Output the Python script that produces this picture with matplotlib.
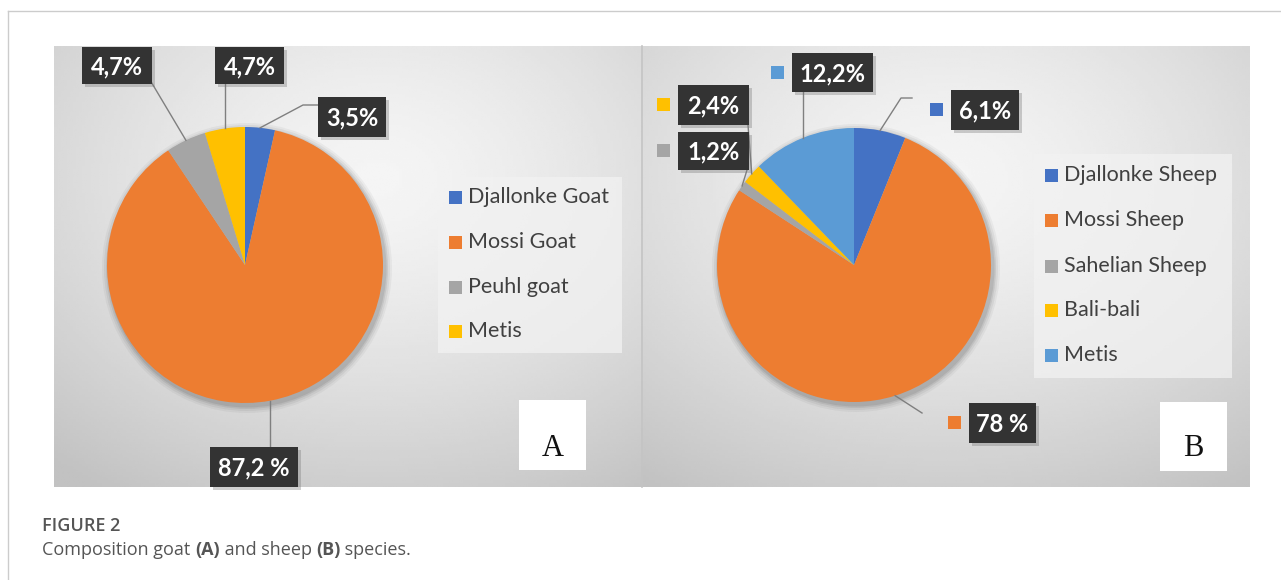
import matplotlib.pyplot as plt
import numpy as np
from matplotlib.patches import Rectangle, Circle

# goat composition (panel A)
goat_labels = ["Djallonke Goat", "Mossi Goat", "Peuhl goat", "Metis"]
goat_values = [3.5, 87.2, 4.7, 4.7]
goat_text = ["3,5%", "87,2 %", "4,7%", "4,7%"]

# sheep composition (panel B)
sheep_labels = ["Djallonke Sheep", "Mossi Sheep", "Sahelian Sheep", "Bali-bali", "Metis"]
sheep_values = [6.1, 78.0, 1.2, 2.4, 12.2]
sheep_text = ["6,1%", "78 %", "1,2%", "2,4%", "12,2%"]

goat_colors = ["#4472C4", "#ED7D31", "#A5A5A5", "#FFC000"]
sheep_colors = ["#4472C4", "#ED7D31", "#A5A5A5", "#FFC000", "#5B9BD5"]

W, H = 1281, 580
fig = plt.figure(figsize=(W / 100, H / 100), dpi=100)
ax = fig.add_axes([0, 0, 1, 1])

LABEL_FONT = "Lato"


def panel_bg(x0, x1, y0, y1, cx, cy):
    # office style radial grey gradient
    xs = np.linspace(0, 1, 200)
    ys = np.linspace(0, 1, 160)
    gx, gy = np.meshgrid(xs, ys)
    d = np.sqrt((gx - cx) ** 2 + (gy - cy) ** 2)
    img = 0.96 - 0.2 * np.clip(d / 0.85, 0, 1) ** 1.4
    ax.imshow(img, extent=(x0, x1, y1, y0), cmap="gray", vmin=0, vmax=1,
              aspect="auto", zorder=0, interpolation="bilinear")


def draw_pie(values, colors, center, radius):
    # soft shadow round the pie
    for k, a in [(7, 0.04), (5, 0.05), (3, 0.07), (1.5, 0.08)]:
        ax.add_patch(Circle((center[0] + 2, center[1] + 3), radius + k,
                            color="#000000", alpha=a, lw=0, zorder=1))
    # y axis is inverted, so counterclock in data = clockwise on screen
    wedges, _ = ax.pie(values, colors=colors, radius=radius, center=center,
                       startangle=-90, counterclock=True,
                       wedgeprops=dict(linewidth=0, zorder=2))
    pts = []
    for w in wedges:
        t = np.deg2rad((w.theta1 + w.theta2) / 2)
        pts.append((center[0] + radius * np.cos(t), center[1] + radius * np.sin(t)))
    return pts


def label_box(text, box, key=None):
    x0, y0, x1, y1 = box
    ax.add_patch(Rectangle((x0 + 3, y0 + 3), x1 - x0, y1 - y0, color="#777777",
                           alpha=0.35, lw=0, zorder=4))
    ax.add_patch(Rectangle((x0, y0), x1 - x0, y1 - y0, color="#333333", lw=0, zorder=5))
    ax.text((x0 + x1) / 2, (y0 + y1) / 2 + 1, text, color="white", fontsize=17,
            fontweight="bold", family=LABEL_FONT, ha="center", va="center", zorder=6)
    if key is not None:
        ax.add_patch(Rectangle((x0 - 21, (y0 + y1) / 2 - 7), 13, 13, color=key,
                               lw=0, zorder=5))


def leader(points):
    xs, ys = zip(*points)
    ax.plot(xs, ys, color="#7f7f7f", lw=1.0, zorder=3)


def legend(labels, colors, box, rows, key_x):
    x0, y0, x1, y1 = box
    ax.add_patch(Rectangle((x0, y0), x1 - x0, y1 - y0, color="#f2f2f2", alpha=0.75,
                           lw=0, zorder=2))
    for lab, c, y in zip(labels, colors, rows):
        ax.add_patch(Rectangle((key_x, y - 6.5), 13, 13, color=c, lw=0, zorder=3))
        ax.text(key_x + 19, y, lab, fontsize=15.5, family=LABEL_FONT, color="#404040",
                ha="left", va="center", zorder=3)


def panel_tag(letter, box):
    x0, y0, x1, y1 = box
    ax.add_patch(Rectangle((x0, y0), x1 - x0, y1 - y0, color="white", lw=0, zorder=2))
    ax.text((x0 + x1) / 2, y1 - 22, letter, fontsize=22, family="Liberation Serif",
            color="#111111", ha="center", va="center", zorder=3)


# panel A -------------------------------
panel_bg(54, 641, 46, 487, 0.55, 0.3)
ga = draw_pie(goat_values, goat_colors, (245, 265), 138)
legend(goat_labels, goat_colors, (438, 177, 622, 353), [197, 242, 287, 331], 449)
panel_tag("A", (519, 400, 586, 470))

goat_boxes = [(318, 97, 386, 137), (210, 447, 298, 487), (82, 47, 152, 84), (215, 47, 284, 84)]
leader([ga[0], (303, 105), (318, 105)])
leader([ga[1], (ga[1][0], 447)])
leader([ga[2], (150, 80)])
leader([ga[3], (ga[3][0], 84)])
for t, b in zip(goat_text, goat_boxes):
    label_box(t, b)

# panel B -------------------------------
panel_bg(641, 1250, 46, 487, 0.5, 0.3)
ax.plot([641.5, 641.5], [46, 487], color="#c4c4c4", lw=1.2, zorder=1)
sb = draw_pie(sheep_values, sheep_colors, (854, 265), 137)
legend(sheep_labels, sheep_colors, (1034, 154, 1232, 378), [175, 220, 266, 310, 355], 1045)
panel_tag("B", (1160, 402, 1227, 471))

sheep_boxes = [(951, 90, 1019, 130), (969, 403, 1036, 443), (678, 132, 749, 170),
               (678, 85, 749, 125), (792, 53, 873, 92)]
leader([sb[0], (901, 98), (912, 98)])
leader([sb[1], (922, 413)])
leader([sb[2], (747, 170)])
leader([sb[3], (748, 125)])
leader([sb[4], (sb[4][0], 92)])
for t, b, c in zip(sheep_text, sheep_boxes, sheep_colors):
    label_box(t, b, key=c)

# card frame and caption
ax.plot([8, W], [11, 11], color="#cccccc", lw=1, zorder=1)
ax.plot([8, 8], [11, H], color="#cccccc", lw=1, zorder=1)

ax.text(42, 526, "FIGURE 2", fontsize=13, family="Open Sans", fontweight="semibold",
        color="#555555", ha="left", va="center")

fig.canvas.draw()
renderer = fig.canvas.get_renderer()
x = 42
for part, bold in [("Composition goat ", False), ("(A)", True), (" and sheep ", False),
                   ("(B)", True), (" species.", False)]:
    t = ax.text(x, 550, part, fontsize=13, family="Open Sans",
                fontweight="bold" if bold else "normal", color="#555555",
                ha="left", va="center")
    bb = t.get_window_extent(renderer)
    x += bb.width

ax.set_xlim(0, W)
ax.set_ylim(H, 0)
ax.set_aspect("auto")
ax.axis("off")

fig.savefig("out.png", dpi=100, facecolor="white")
